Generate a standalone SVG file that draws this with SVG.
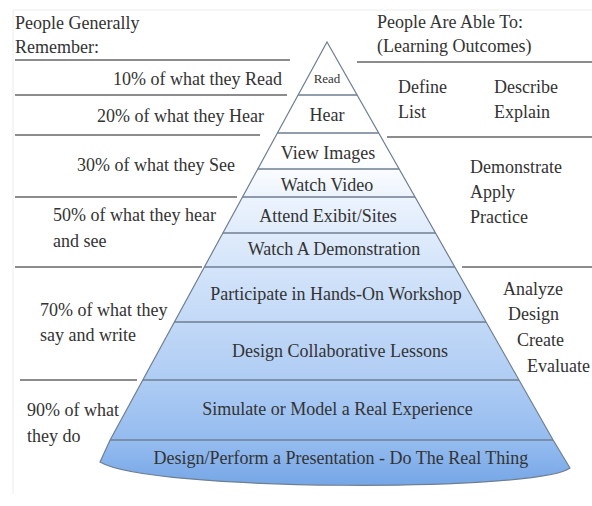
<svg xmlns="http://www.w3.org/2000/svg" width="592" height="506" viewBox="0 0 592 506">
<defs>
<linearGradient id="pyr" gradientUnits="userSpaceOnUse" x1="0" y1="42" x2="0" y2="488">
<stop offset="0" stop-color="#ffffff"/>
<stop offset="0.26" stop-color="#ffffff"/>
<stop offset="0.36" stop-color="#eaf2fd"/>
<stop offset="0.5" stop-color="#d5e5fa"/>
<stop offset="0.75" stop-color="#b0cdf4"/>
<stop offset="0.9" stop-color="#93bbef"/>
<stop offset="1" stop-color="#74a5e6"/>
</linearGradient>
<style>
text{font-family:"Liberation Serif","Times New Roman",serif;font-size:18px;fill:#333333}
.c{text-anchor:middle}
.band{fill:url(#pyr);stroke:none}
.sep{stroke:#6f7f92;stroke-width:1.3;fill:none}
.edge{stroke:#6f7f92;stroke-width:1.2;fill:none}
.rule{stroke:#8c8c8c;stroke-width:2;fill:none}
.frame{stroke:#ececec;stroke-width:1;fill:none}
</style>
</defs>
<rect width="592" height="506" fill="#ffffff"/>
<g id="frame">
<path class="frame" d="M13 10 H592 M13 10 V494"/>
</g>
<g id="rules">
<path class="rule" d="M15 60 H290 M15 95 H287 M15 135 H260 M15 197 H237 M15 267 H202 M20 380 H137"/>
<path class="rule" d="M357 62 H592 M387 137 H592 M462 267 H592"/>
</g>
<g id="headers">
<text x="15" y="29">People Generally</text>
<text x="15" y="53">Remember:</text>
<text x="377" y="28">People Are Able To:</text>
<text x="377" y="52">(Learning Outcomes)</text>
</g>
<g id="remember">
<text x="113" y="85">10% of what they Read</text>
<text x="97" y="122">20% of what they Hear</text>
<text x="77" y="171">30% of what they See</text>
<text x="53" y="221">50% of what they hear</text>
<text x="53" y="247">and see</text>
<text x="40" y="316">70% of what they</text>
<text x="40" y="341">say and write</text>
<text x="27" y="416">90% of what</text>
<text x="27" y="442">they do</text>
</g>
<g id="outcomes">
<text x="398" y="93">Define</text>
<text x="494" y="93">Describe</text>
<text x="398" y="118">List</text>
<text x="494" y="118">Explain</text>
<text x="470" y="173">Demonstrate</text>
<text x="470" y="198">Apply</text>
<text x="470" y="223">Practice</text>
<text x="503" y="295">Analyze</text>
<text x="508" y="320">Design</text>
<text x="517" y="346">Create</text>
<text x="527" y="372">Evaluate</text>
</g>
<g id="pyramid">
<g id="band-read"><polygon class="band" points="327,42 357.1,95 298.1,95"/><text class="c" x="327" y="83" style="font-size:13px">Read</text></g>
<g id="band-hear"><polygon class="band" points="298.1,95 357.1,95 378.7,133 277.4,133"/><text class="c" x="327" y="121">Hear</text></g>
<g id="band-view"><polygon class="band" points="277.4,133 378.7,133 399.1,169 257.8,169"/><text class="c" x="328" y="159">View Images</text></g>
<g id="band-video"><polygon class="band" points="257.8,169 399.1,169 415,197 242.5,197"/><text class="c" x="327" y="191">Watch Video</text></g>
<g id="band-exhibit"><polygon class="band" points="242.5,197 415,197 435.5,233 222.9,233"/><text class="c" x="328" y="222">Attend Exibit/Sites</text></g>
<g id="band-demo"><polygon class="band" points="222.9,233 435.5,233 454.8,267 204.4,267"/><text class="c" x="334" y="255">Watch A Demonstration</text></g>
<g id="band-workshop"><polygon class="band" points="204.4,267 454.8,267 486,322 174.4,322"/><text class="c" x="336" y="300">Participate in Hands-On Workshop</text></g>
<g id="band-lessons"><polygon class="band" points="174.4,322 486,322 519,380 142.8,380"/><text class="c" x="340" y="357">Design Collaborative Lessons</text></g>
<g id="band-simulate"><polygon class="band" points="142.8,380 519,380 553.1,440 110.1,440"/><text class="c" x="337.5" y="415">Simulate or Model a Real Experience</text></g>
<g id="band-real"><path class="band" d="M110.1 440 H553.1 L570 468 C540 492 150 492 100 462 Z"/><text class="c" x="341" y="464">Design/Perform a Presentation - Do The Real Thing</text></g>
</g>
<g id="connectors">
<path class="edge" d="M110.1 440 L327 42 L553.1 440 L570 468 C540 492 150 492 100 462 Z"/>
<path class="sep" d="M298.1 95 H357.1 M277.4 133 H378.7 M257.8 169 H399.1 M242.5 197 H415 M222.9 233 H435.5 M204.4 267 H454.8 M174.4 322 H486 M142.8 380 H519 M110.1 440 H553.1"/>
</g>
</svg>
